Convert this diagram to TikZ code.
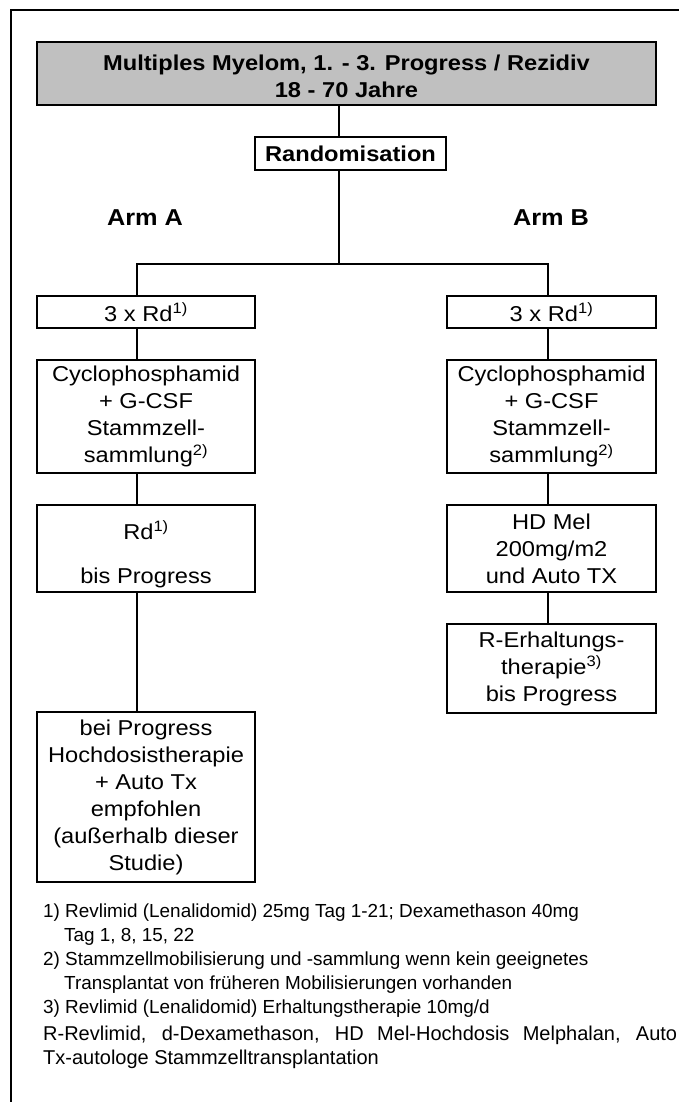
\documentclass[tikz,border=0pt]{standalone}
\usepackage{fontspec}
\setmainfont{Liberation Sans}[FakeStretch=1.1]
\newfontfamily\notefamily{Liberation Sans}
\usepackage{xcolor}
\usetikzlibrary{positioning}
\definecolor{titlegray}{RGB}{192,192,192}
\newcommand{\boxfont}{\fontsize{21.5}{27}\selectfont}
\newcommand{\armfont}{\fontsize{23}{27}\selectfont\bfseries}
\newcommand{\notefont}{\notefamily\fontsize{18.9}{24}\selectfont}
\newcommand{\abbrfont}{\notefamily\fontsize{20}{24}\selectfont}

\begin{document}
\begin{tikzpicture}[x=1pt,y=-1pt,
  box/.style={draw,line width=1.6pt,inner sep=0pt,outer sep=0pt,align=center,font=\boxfont},
  link/.style={line width=1.5pt},
  note/.style={anchor=base west,inner sep=0pt,font=\notefont}]
  \useasboundingbox (0,0) rectangle (679,1102);
  % frame
  \draw[line width=1.6pt] (11,1102) -- (11,10) -- (679,10);

  % head and randomisation
  \node[box,fill=titlegray,minimum width=619pt,minimum height=63pt,font=\boxfont\bfseries] (title) at (346.5,73.5)
    {\rule{0pt}{22pt}Multiples Myelom, 1. - 3. Progress / Rezidiv\\18 - 70 Jahre};
  \node[box,minimum width=191pt,minimum height=33pt,font=\boxfont\bfseries] (rando) at (350.5,153.5) {Randomisation};
  \node[font=\armfont] (armA) at (145,218) {Arm A};
  \node[font=\armfont] (armB) at (551,218) {Arm B};
  \coordinate (split) at (339,264);
  \coordinate (armL) at (137,264);
  \coordinate (armR) at (548,264);

  % Arm A
  \node[box,minimum width=218pt,minimum height=32pt] (rdA1) at (146,312) {3 x Rd\textsuperscript{1)}};
  \node[box,minimum width=218pt,minimum height=113pt] (cycA) at (146,416.5)
    {Cyclophosphamid\\+ G-CSF\\Stammzell-\\sammlung\textsuperscript{2)}};
  \node[box,minimum width=218pt,minimum height=87pt] (rdA2) at (146,548.5) {\rule{0pt}{30pt}Rd\textsuperscript{1)}\\[17pt]bis Progress};
  \node[box,minimum width=218pt,minimum height=170pt] (progA) at (146,797)
    {bei Progress\\Hochdosistherapie\\+ Auto Tx\\empfohlen\\(außerhalb dieser\\Studie)};

  % Arm B
  \node[box,minimum width=209pt,minimum height=32pt] (rdB1) at (551.5,312) {3 x Rd\textsuperscript{1)}};
  \node[box,minimum width=209pt,minimum height=113pt] (cycB) at (551.5,416.5)
    {Cyclophosphamid\\+ G-CSF\\Stammzell-\\sammlung\textsuperscript{2)}};
  \node[box,minimum width=209pt,minimum height=87pt] (hdB) at (551.5,548.5) {HD Mel\\200mg/m2\\und Auto TX};
  \node[box,minimum width=209pt,minimum height=89pt] (erhB) at (551.5,668.5)
    {R-Erhaltungs-\\therapie\textsuperscript{3)}\\bis Progress};

  % connectors
  \draw[link] (title.south -| split) -- (rando.north -| split);
  \draw[link] (rando.south -| split) -- (split);
  \draw[link] (rdA1.north -| armL) -- (armL) -- (armR) -- (rdB1.north -| armR);
  \draw[link] (rdA1.south -| armL) -- (cycA.north -| armL);
  \draw[link] (cycA.south -| armL) -- (rdA2.north -| armL);
  \draw[link] (rdA2.south -| armL) -- (progA.north -| armL);
  \draw[link] (rdB1.south -| armR) -- (cycB.north -| armR);
  \draw[link] (cycB.south -| armR) -- (hdB.north -| armR);
  \draw[link] (hdB.south -| armR) -- (erhB.north -| armR);

  % footnotes
  \node[note] (n1a) at (43,917) {1) Revlimid (Lenalidomid) 25mg Tag 1-21; Dexamethason 40mg};
  \node[note] (n1b) at (64,941) {Tag 1, 8, 15, 22};
  \node[note] (n2a) at (43,965) {2) Stammzellmobilisierung und -sammlung wenn kein geeignetes};
  \node[note] (n2b) at (64,989) {Transplantat von früheren Mobilisierungen vorhanden};
  \node[note] (n3) at (43,1013) {3) Revlimid (Lenalidomid) Erhaltungstherapie 10mg/d};
  \node[note,font=\abbrfont] (abbr1) at (43,1040) {\makebox[634pt][s]{R-Revlimid, d-Dexamethason, HD Mel-Hochdosis Melphalan, Auto}};
  \node[note,font=\abbrfont] (abbr2) at (43,1064) {Tx-autologe Stammzelltransplantation};
\end{tikzpicture}
\end{document}
